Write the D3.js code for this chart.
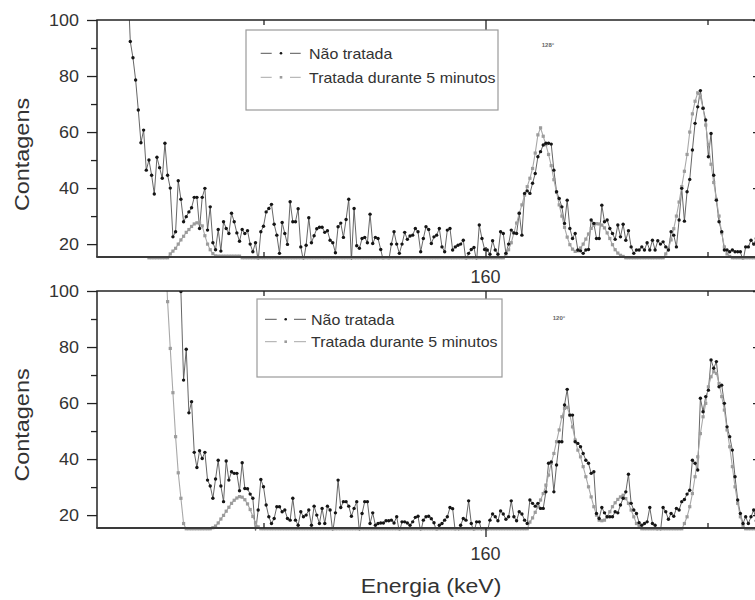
<!DOCTYPE html>
<html>
<head>
<meta charset="utf-8">
<script src="https://cdn.jsdelivr.net/npm/d3@7"></script>
<style>
body{margin:0;background:#fff}
svg{display:block}
text{font-family:"Liberation Sans",Arial,sans-serif;fill:#333}
</style>
</head>
<body>
<svg id="svg" width="755" height="600"></svg>
<script>
// channel grid of the spectra, keV
var energyStart=127.76, energyStep=0.24;
var energyDomain=[125,185];
var countDomain=[15.4,100];
var yMajorTicks=[20,40,60,80,100];
var yMinorTicks=[30,50,70,90];
var xMajorTicks=[160];
var xMinorTicks=[140,180];
var seriesNames=["Não tratada","Tratada durante 5 minutos"];
var panelAngles=["128°","120°"];
var xTitle="Energia (keV)";
var yTitle="Contagens";

// counts per channel (null = no point)
var topNaoTratada=[115,
92.3,86.5,78.6,67.9,56.2,60.7,46.4,50,44.6,37.9,
51,47.3,43.5,56,44.6,40,22.6,24.4,42.6,36,
28,29.8,31.5,33,36.7,36.7,25.6,36.7,39.9,25,
33.3,20.5,18,25.2,17.5,28,25.6,23.8,31,28,
24,21,25.2,23.8,24.8,20,17.3,20.5,14,24.4,
26.4,31.5,32.7,34.2,27.1,23.2,16.7,27.7,23.8,19.9,
35.1,28,28,32.6,19,14,19.6,29.4,20.5,23,
25.5,26,26,24.2,24.8,21.4,20.5,16.9,26.2,27.5,
22.4,28.8,36,14,32.7,19.4,18.5,22,22.4,20.5,
30.7,20.2,22.4,22,18.1,14,14,14,20,24.4,
20,16.7,20,24.2,21.7,22.9,23.2,25.6,24.4,17.3,
22,26.2,
25.2,20.2,22.6,23.2,25.6,19,17.3,25,25.6,17.9,
19,19.6,20,21.4,14,16.7,18.1,18.8,14,26.8,
22,18.1,17.9,16.4,21.2,17.9,16.4,24.4,23.8,16.7,
20,25,24,23.8,31,23.2,38.1,39,38.1,41.7,
45.2,51.2,53,55.4,56,56,55.7,46.4,38.7,36.3,
33.3,27.4,35.7,25.6,22,23.8,17.9,17.6,16.7,17.9,
18.1,28.6,27.4,22,22,33.9,28,28.6,25.6,23.8,
21.7,26.8,22.6,27.1,21.4,24.8,19,16.7,17.9,17.9,
19,17.9,20.5,17.9,21.4,17.9,21.2,20,20.8,19,
17.9,24.4,23.2,19,28.6,39.9,28.2,38.7,43.1,53.6,
63.1,69,74.8,68.5,64.3,51.2,59.5,44.6,35.7,28,
24.4,17.9,17.9,17.3,17.9,17.3,17.3,17.3,14,19,
19,21.4,20,22];

var topTratada=[null,null,null,null,null,null,null,null,
15,15,15,15,15,15,15,15,
16.5,17.5,18.5,20,21.5,22.8,24.2,25.2,26.3,27.2,27.6,27.5,26.5,23,20,18,16.6,15.8,
15.7,15.7,15.7,15.7,15.7,15.7,15.7,15.7,15.7,
15,15,15,15,15,15,15,15,15,15,15,15,15,15,15,15,15,15,15,15,
15,15,15,15,15,15,15,15,15,15,15,15,15,15,15,15,15,15,15,15,
15,15,15,15,15,15,15,15,15,15,15,15,15,15,15,15,15,15,15,15,
15,15,15,15,15,15,15,15,15,15,15,15,15,15,15,15,15,15,15,15,
15,15,15,15,15,15,15,15,15,15,15,15,15,15,15,15,15,15,15,
16.5,18,20.5,24,27.5,31,34,37.5,40.5,43.5,47,52.5,59,61.5,58.5,55.5,52,48,43,38.5,
34,30,26,22.5,19.8,18.2,17.4,17.6,18.6,20,21.8,23.6,25.6,26.8,27.3,27.2,26.8,25.8,24,22,
19.8,18,16.8,16,15.6,
15,15,15,15,15,15,15,15,15,15,15,15,15,15,15,
16.5,18.5,21.5,25.5,30,35,40.5,46,52,60,66.5,71,74,72.5,68.5,62.5,55.5,48.5,42,36,
30,24,19,16.5,15.6,
15,15,15,15,15,15,15,15,15,15];

var bottomNaoTratada=[null,null,null,null,null,null,null,null,null,null,
null,null,null,null,null,null,null,null,null,
125,
99.8,68.2,79.2,56.5,60.5,42.4,37,43,40.2,42.4,
32.5,30.4,26,32.9,39.6,30.4,24.8,39.3,32.5,35.5,
34.9,34.9,28.7,38.7,29.5,29.4,27.5,26,14,21.8,
32.7,30.1,23.6,19.4,17,18.8,23,23,21.2,21.8,
18.8,18.2,26,18.2,16.4,21.2,19.4,20,21.8,16.4,
23.2,20,17,22.4,17,23.2,21.8,14,20.8,32.5,
22.7,24.8,24.8,23.2,19.6,22.4,24.8,14,20.6,24.8,
24.8,17,20.8,16.4,17,17.2,17.2,18,18,18.2,
17.2,19.4,14,17.6,17.6,17.2,16.4,17.6,19.2,19.6,
14,18.2,19.4,
19.6,18.7,17.3,14,16.4,17,18.2,19.4,22.7,22.3,
14,14,16.4,18.8,18.2,25.1,17,14,17.6,17.6,
14,14,14,18.2,20.4,19.4,18,21.5,20.4,18.5,
19.4,25.1,19.4,18,21.2,20.4,18.2,17,25.4,24.2,
23.2,24.2,22.4,22.4,28.3,38.5,39,28.3,37.9,46.2,
46.2,59.3,64.9,55.7,55.7,46.2,45.6,44.4,42,39.6,
38.5,34.9,35.5,20.6,18.8,22.7,20.8,19.4,19.4,19.4,
21.2,20.8,23.6,26,28.3,34.6,24.2,21.8,20.6,17.3,
16.4,17,17.6,22.7,17,16.4,14,14,22.7,21.2,
18.5,20.6,19.6,22.4,21.8,24.8,25.6,27.5,28.9,39.6,
38.5,36.1,61.7,56.9,62.3,64.6,75.4,72.4,74.8,65.8,
66.4,59.9,51.5,48,43.2,33.7,25.4,20.6,17,19.4,
17,19.4,21.8,
18];

var bottomTratada=[null,null,null,null,null,null,null,null,null,null,null,null,null,null,
118,96.2,79.5,63.7,48,35.1,26,17,
15,15,15,15,15,15,15,15,15,15,
15.5,16.1,17.2,18.6,19.9,21.4,22.8,24.2,25.3,26.1,26.6,26.4,25.5,24,22,19.5,17.3,15.8,
15,15,15,15,15,15,15,15,15,15,15,15,15,15,15,15,15,15,15,15,
15,15,15,15,15,15,15,15,15,15,15,15,15,15,15,15,15,15,15,15,
15,15,15,15,15,15,15,15,15,15,15,15,15,15,15,15,15,15,15,15,
15,15,15,15,15,15,15,15,15,15,15,15,15,15,15,15,15,15,15,15,
15,15,15,15,15,15,15,15,15,15,15,15,15,15,15,15,15,15,15,15,
15,
17.5,19,21,23,25.4,27.7,30.7,34.3,38.5,42,46.2,50.4,55.1,58.1,58.5,55.7,51.5,46.8,43.2,40.8,
37.3,33.7,30.1,26.5,23,20,18.2,18,18.2,19.4,21.2,23,24.4,25.6,26.5,27.1,25.9,24.2,21.8,19.4,
17,16.1,
15,15,15,15,15,15,15,15,15,15,15,15,15,15,15,15,
17,19.4,23,27.7,33.7,40.8,49.1,55.1,59.9,65.8,69.4,71.2,70.6,67,62.3,57.5,50.4,44.4,37.3,30.1,
24.2,19.4,16.4,
15,15,15,15,15];

var svg=d3.select("#svg");
var x=d3.scaleLinear().domain(energyDomain).range([97,763]);

function toPoints(arr){
    return arr.map(function(v,i){return {e:energyStart+i*energyStep,v:v}});
}

function stretch(sel,f){
    sel.each(function(){
        var w=this.getComputedTextLength();
        d3.select(this).attr("textLength",w*f).attr("lengthAdjust","spacingAndGlyphs");
    });
}

function drawPanel(p){
    var y=d3.scaleLinear().domain(countDomain).range([p.y1,p.y0]);
    var g=svg.append("g");

    g.append("clipPath").attr("id","clip"+p.id)
     .append("rect").attr("x",97).attr("y",p.y0).attr("width",666).attr("height",p.y1-p.y0+2.5);

    var plot=g.append("g").attr("clip-path","url(#clip"+p.id+")");
    var line=d3.line().defined(function(d){return d.v!==null}).x(function(d){return x(d.e)}).y(function(d){return y(d.v)});
    var a=toPoints(p.untreated), b=toPoints(p.treated);
    var shown=function(d){return d.v!==null && d.v>=14.9 && d.v<=100.5};

    plot.append("path").datum(a).attr("d",line).attr("fill","none").attr("stroke","#555").attr("stroke-width",0.9);
    plot.append("path").datum(b).attr("d",line).attr("fill","none").attr("stroke","#a8a8a8").attr("stroke-width",1.1);
    plot.selectAll(".sq").data(b.filter(shown)).enter().append("rect")
        .attr("x",function(d){return x(d.e)-1.6}).attr("y",function(d){return y(d.v)-1.6})
        .attr("width",3.2).attr("height",3.2).attr("fill","#9c9c9c");
    plot.selectAll(".dot").data(a.filter(shown)).enter().append("circle")
        .attr("cx",function(d){return x(d.e)}).attr("cy",function(d){return y(d.v)})
        .attr("r",1.7).attr("fill","#151515");

    // frame
    var fr=g.append("g").attr("stroke","#222").attr("stroke-width",1.5);
    fr.append("line").attr("x1",96.25).attr("x2",764).attr("y1",p.y0).attr("y2",p.y0);
    fr.append("line").attr("x1",97).attr("x2",97).attr("y1",p.y0).attr("y2",p.y1);
    fr.append("line").attr("x1",763).attr("x2",763).attr("y1",p.y0).attr("y2",p.y1);
    fr.append("line").attr("x1",96.25).attr("x2",764).attr("y1",p.y1).attr("y2",p.y1).attr("stroke","#3a3a3a").attr("stroke-width",2);

    // y ticks
    var yl=g.append("g").attr("transform","translate(97,0)")
        .call(d3.axisLeft(y).tickValues(yMajorTicks).tickSize(10).tickPadding(8).tickSizeOuter(0));
    g.append("g").attr("transform","translate(97,0)")
        .call(d3.axisLeft(y).tickValues(yMinorTicks).tickSize(6).tickFormat("").tickSizeOuter(0));
    g.append("g").attr("transform","translate(763,0)")
        .call(d3.axisRight(y).tickValues(yMajorTicks).tickSize(-10).tickFormat("").tickSizeOuter(0));
    g.append("g").attr("transform","translate(763,0)")
        .call(d3.axisRight(y).tickValues(yMinorTicks).tickSize(-6).tickFormat("").tickSizeOuter(0));
    // x ticks
    g.append("g").attr("transform","translate(0,"+p.y0+")")
        .call(d3.axisTop(x).tickValues(xMajorTicks).tickSize(-10).tickFormat("").tickSizeOuter(0));
    g.append("g").attr("transform","translate(0,"+p.y0+")")
        .call(d3.axisTop(x).tickValues(xMinorTicks).tickSize(-5).tickFormat("").tickSizeOuter(0));
    g.append("g").attr("transform","translate(0,"+p.y1+")")
        .call(d3.axisBottom(x).tickValues(xMajorTicks).tickSize(p.tickOut).tickFormat("").tickSizeOuter(0));
    g.append("g").attr("transform","translate(0,"+p.y1+")")
        .call(d3.axisBottom(x).tickValues(xMinorTicks).tickSize(-5).tickFormat("").tickSizeOuter(0));

    g.selectAll(".domain").remove();
    g.selectAll(".tick line").attr("stroke","#222").attr("stroke-width",1.3);
    yl.selectAll("text").attr("font-size",16).attr("fill","#333").attr("font-family",null).attr("dy","0.36em");
    stretch(yl.selectAll("text"),1.12);

    g.selectAll(".xlab").data(xMajorTicks).enter().append("text")
        .attr("x",function(d){return x(d)}).attr("y",p.xLabelY)
        .attr("text-anchor","middle").attr("font-size",18).text(function(d){return d});

    var yt=g.append("text").attr("transform","translate(29,"+p.titleY+") rotate(-90)")
        .attr("text-anchor","middle").attr("font-size",19.5).text(yTitle);
    stretch(yt,1.2);

    g.append("text").attr("x",p.angle[0]).attr("y",p.angle[1]).attr("text-anchor","middle")
        .attr("font-size",6).attr("font-weight","bold").style("fill","#666").text(p.angleText);

    // legend
    var L=p.legend;
    var lg=g.append("g").attr("transform","translate("+L.x+","+L.y+")");
    lg.append("rect").attr("width",L.w).attr("height",L.h).attr("fill","#fff").attr("stroke","#9a9a9a").attr("stroke-width",1.2);
    seriesNames.forEach(function(name,i){
        var ry=L.rows[i]-L.y;
        var col=i==0?"#555":"#a8a8a8";
        lg.append("line").attr("x1",L.d1[0]).attr("x2",L.d1[1]).attr("y1",ry).attr("y2",ry).attr("stroke",col);
        lg.append("line").attr("x1",L.d2[0]).attr("x2",L.d2[1]).attr("y1",ry).attr("y2",ry).attr("stroke",col);
        if(i==0){
            lg.append("circle").attr("cx",L.m).attr("cy",ry).attr("r",1.3).attr("fill","#151515");
        }else{
            lg.append("rect").attr("x",L.m-1.3).attr("y",ry-1.3).attr("width",2.6).attr("height",2.6).attr("fill","#9c9c9c");
        }
        var t=lg.append("text").attr("x",L.tx).attr("y",ry).attr("dy","0.36em").attr("font-size",14.5).text(name);
        stretch(t,1.1);
    });
}

drawPanel({id:0,y0:20,y1:257,untreated:topNaoTratada,treated:topTratada,
    xLabelY:283,titleY:154.5,tickOut:-10,angle:[548,46.5],angleText:panelAngles[0],
    legend:{x:246,y:30,w:252,h:80,rows:[53.3,77.3],d1:[14.7,25.7],m:35,d2:[44,54.7],tx:63}});
drawPanel({id:1,y0:291,y1:528,untreated:bottomNaoTratada,treated:bottomTratada,
    xLabelY:560,titleY:425,tickOut:9,angle:[559,320],angleText:panelAngles[1],
    legend:{x:257,y:299,w:245,h:78,rows:[319.3,341.7],d1:[8,19.7],m:28.7,d2:[37,49],tx:54}});

var xt=svg.append("text").attr("x",431).attr("y",593).attr("text-anchor","middle").attr("font-size",20).text(xTitle);
stretch(xt,1.15);
</script>
</body>
</html>
